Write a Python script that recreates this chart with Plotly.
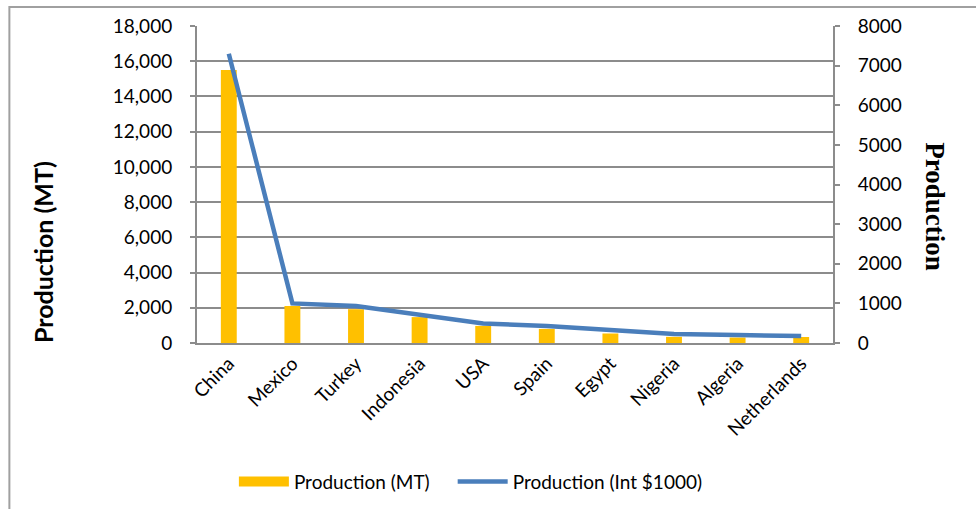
import plotly.graph_objects as go

countries = ["China", "Mexico", "Turkey", "Indonesia", "USA", "Spain",
             "Egypt", "Nigeria", "Algeria", "Netherlands"]
production_mt = [15500, 2100, 1920, 1470, 970, 800, 540, 350, 310, 340]
production_int = [7300, 1000, 935, 720, 495, 430, 320, 225, 200, 175]

left_ticks = list(range(0, 18001, 2000))
right_ticks = list(range(0, 8001, 1000))

FONT = "Lato"
GRID = "#8c8c8c"
BAR_COLOR = "#FFC000"
LINE_COLOR = "#4A7EBB"

fig = go.Figure()
fig.add_trace(go.Bar(
    x=countries, y=production_mt, name="Production (MT)",
    marker=dict(color=BAR_COLOR, line=dict(width=0)), width=0.25,
    yaxis="y", showlegend=False,
))
# wide flat swatch for the bar series in the legend
fig.add_trace(go.Scatter(
    x=[None], y=[None], name="Production (MT)", mode="lines",
    line=dict(color=BAR_COLOR, width=12), yaxis="y", legend="legend",
))
fig.add_trace(go.Scatter(
    x=countries, y=production_int, name="Production (Int $1000)",
    mode="lines", line=dict(color=LINE_COLOR, width=4.5),
    yaxis="y2", legend="legend2",
))

legend_style = dict(
    orientation="h", y=-0.437, xanchor="left", yanchor="middle",
    font=dict(family=FONT, size=19), itemwidth=50, tracegroupgap=0,
    bgcolor="rgba(0,0,0,0)",
)

fig.update_layout(
    width=976, height=509,
    margin=dict(l=197, r=143, t=26, b=166, autoexpand=False),
    paper_bgcolor="white", plot_bgcolor="white",
    font=dict(family=FONT, size=19, color="#000000"),
    showlegend=True,
    legend=dict(x=0.058, **legend_style),
    legend2=dict(x=0.402, **legend_style),
    xaxis=dict(
        type="category", tickangle=-45, showgrid=False, automargin=False,
        showline=True, linecolor=GRID, linewidth=2,
        ticks="", tickfont=dict(family=FONT, size=19),
    ),
    yaxis=dict(
        range=[0, 18000], tickvals=left_ticks, automargin=False,
        ticktext=[f"{v:,}" for v in left_ticks],
        showgrid=True, gridcolor=GRID, gridwidth=2,
        showline=True, linecolor=GRID, linewidth=2,
        ticks="outside", ticklen=5, tickcolor=GRID, tickwidth=2,
        ticklabelstandoff=14, zeroline=False,
        tickfont=dict(family=FONT, size=19),
    ),
    yaxis2=dict(
        range=[0, 8000], tickvals=right_ticks, overlaying="y", side="right",
        automargin=False,
        showgrid=False, showline=True, linecolor=GRID, linewidth=2,
        ticks="outside", ticklen=5, tickcolor=GRID, tickwidth=2,
        ticklabelstandoff=14, zeroline=False,
        tickfont=dict(family=FONT, size=19),
    ),
    annotations=[
        dict(text="<b>Production (MT)</b>", xref="paper", yref="paper",
             x=-0.242, y=0.287, xanchor="center", yanchor="middle",
             textangle=-90, showarrow=False,
             font=dict(family=FONT, size=25)),
        dict(text="<b>Production</b>", xref="paper", yref="paper",
             x=1.16, y=0.429, xanchor="center", yanchor="middle",
             textangle=90, showarrow=False,
             font=dict(family="Liberation Serif", size=27)),
    ],
    shapes=[
        dict(type="rect", xref="paper", yref="paper",
             x0=-0.295, x1=1.3, y0=-0.6, y1=1.06,
             line=dict(color="#a0a0a0", width=2), layer="below"),
    ],
)

fig.write_html("out.html")
